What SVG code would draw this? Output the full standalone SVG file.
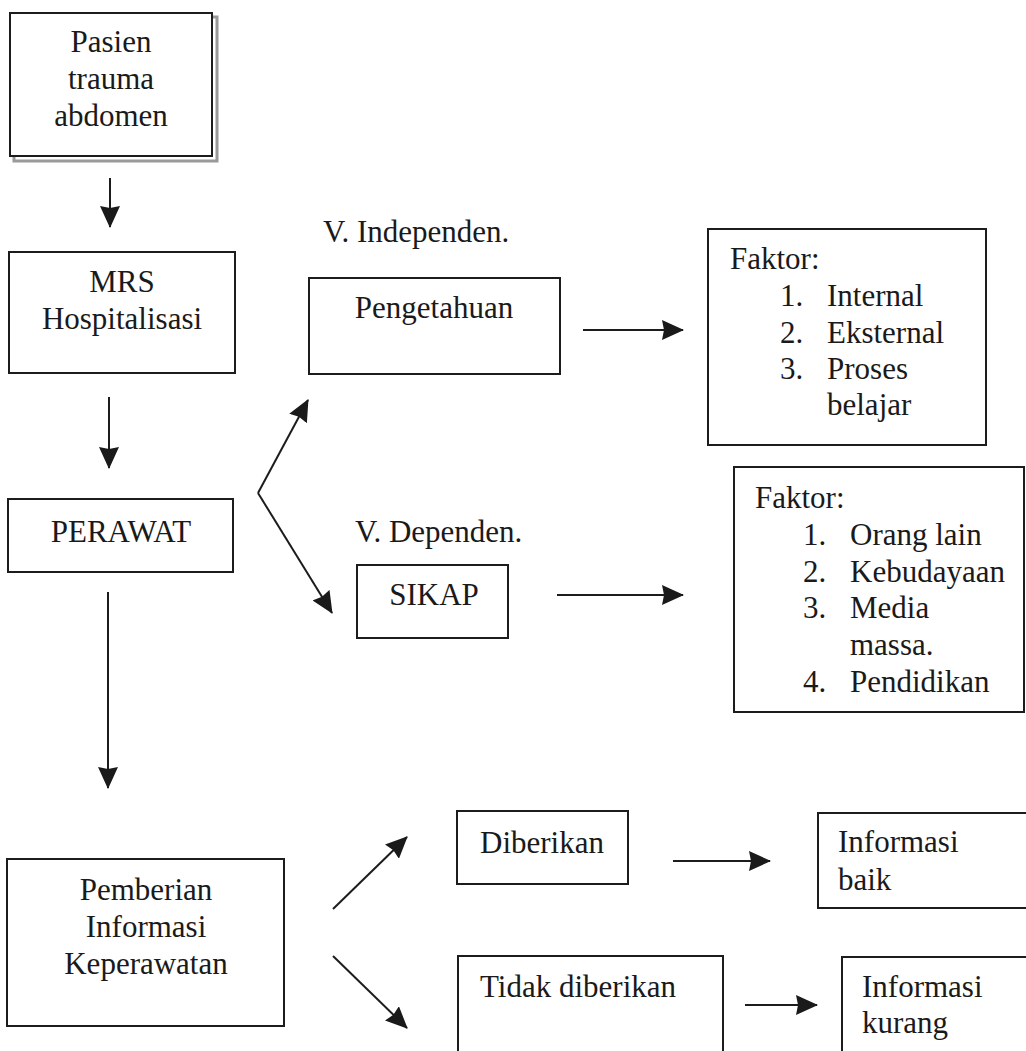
<svg xmlns="http://www.w3.org/2000/svg" width="1026" height="1051" viewBox="0 0 1026 1051">
<defs>
<style>
.box{fill:#fff;stroke:#1c1c1c;stroke-width:2}
.t{font-family:"Liberation Serif","Times New Roman",serif;font-size:31px;fill:#1a1a1a}
.c{text-anchor:middle}
.ln{stroke:#1c1c1c;stroke-width:2;fill:none;marker-end:url(#ah)}
</style>
<marker id="ah" viewBox="0 0 22 20" markerWidth="22" markerHeight="20" refX="21" refY="10" orient="auto" markerUnits="userSpaceOnUse">
<path d="M0,0 L22,10 L0,20 L2,10 Z" fill="#1a1a1a"/>
</marker>
</defs>
<rect width="1026" height="1051" fill="#fff"/>

<g id="connectors">
<line class="ln" x1="110" y1="178" x2="110" y2="227"/>
<line class="ln" x1="109" y1="397" x2="109" y2="468"/>
<line class="ln" x1="108" y1="592" x2="108" y2="788"/>
<line class="ln" x1="258" y1="493" x2="308" y2="400"/>
<line class="ln" x1="258" y1="493" x2="332" y2="613"/>
<line class="ln" x1="583" y1="330" x2="683" y2="330"/>
<line class="ln" x1="557" y1="595" x2="683" y2="595"/>
<line class="ln" x1="333" y1="909" x2="407" y2="837"/>
<line class="ln" x1="333" y1="956" x2="407" y2="1028"/>
<line class="ln" x1="673" y1="861" x2="770" y2="861"/>
<line class="ln" x1="745" y1="1005" x2="817" y2="1005"/>
</g>

<g id="pasien">
<rect x="14" y="17" width="203" height="144" fill="none" stroke="#9a9a9a" stroke-width="3"/>
<rect class="box" x="10" y="13" width="202" height="143" stroke-width="2.5"/>
<text class="t c" x="111" y="52">Pasien</text>
<text class="t c" x="111" y="89">trauma</text>
<text class="t c" x="111" y="126">abdomen</text>
</g>

<g id="mrs">
<rect class="box" x="9" y="252" width="226" height="121"/>
<text class="t c" x="122" y="292">MRS</text>
<text class="t c" x="122" y="329">Hospitalisasi</text>
</g>

<g id="perawat">
<rect class="box" x="8" y="499" width="225" height="73"/>
<text class="t c" x="121" y="542">PERAWAT</text>
</g>

<g id="label-independen">
<text class="t" x="323" y="242">V. Independen.</text>
</g>

<g id="pengetahuan">
<rect class="box" x="309" y="278" width="251" height="96"/>
<text class="t c" x="434" y="318">Pengetahuan</text>
</g>

<g id="label-dependen">
<text class="t" x="355" y="542">V. Dependen.</text>
</g>

<g id="sikap">
<rect class="box" x="357" y="565" width="151" height="73"/>
<text class="t c" x="434" y="605">SIKAP</text>
</g>

<g id="faktor1">
<rect class="box" x="708" y="229" width="278" height="216"/>
<text class="t" x="730" y="269">Faktor:</text>
<text class="t" x="780" y="306">1.</text><text class="t" x="827" y="306">Internal</text>
<text class="t" x="780" y="343">2.</text><text class="t" x="827" y="343">Eksternal</text>
<text class="t" x="780" y="379">3.</text><text class="t" x="827" y="379">Proses</text>
<text class="t" x="827" y="415">belajar</text>
</g>

<g id="faktor2">
<rect class="box" x="734" y="467" width="290" height="245"/>
<text class="t" x="755" y="508">Faktor:</text>
<text class="t" x="803" y="545">1.</text><text class="t" x="850" y="545">Orang lain</text>
<text class="t" x="803" y="582">2.</text><text class="t" x="850" y="582">Kebudayaan</text>
<text class="t" x="803" y="618">3.</text><text class="t" x="850" y="618">Media</text>
<text class="t" x="850" y="655">massa.</text>
<text class="t" x="803" y="692">4.</text><text class="t" x="850" y="692">Pendidikan</text>
</g>

<g id="pemberian">
<rect class="box" x="7" y="859" width="277" height="167"/>
<text class="t c" x="146" y="900">Pemberian</text>
<text class="t c" x="146" y="937">Informasi</text>
<text class="t c" x="146" y="974">Keperawatan</text>
</g>

<g id="diberikan">
<rect class="box" x="457" y="811" width="171" height="73"/>
<text class="t" x="480" y="853">Diberikan</text>
</g>

<g id="info-baik">
<rect class="box" x="818" y="813" width="215" height="95"/>
<text class="t" x="838" y="852">Informasi</text>
<text class="t" x="838" y="890">baik</text>
</g>

<g id="tidak-diberikan">
<rect class="box" x="458" y="956" width="265" height="110"/>
<text class="t" x="480" y="997">Tidak diberikan</text>
</g>

<g id="info-kurang">
<rect class="box" x="842" y="957" width="195" height="110"/>
<text class="t" x="862" y="997">Informasi</text>
<text class="t" x="862" y="1033">kurang</text>
</g>
</svg>
